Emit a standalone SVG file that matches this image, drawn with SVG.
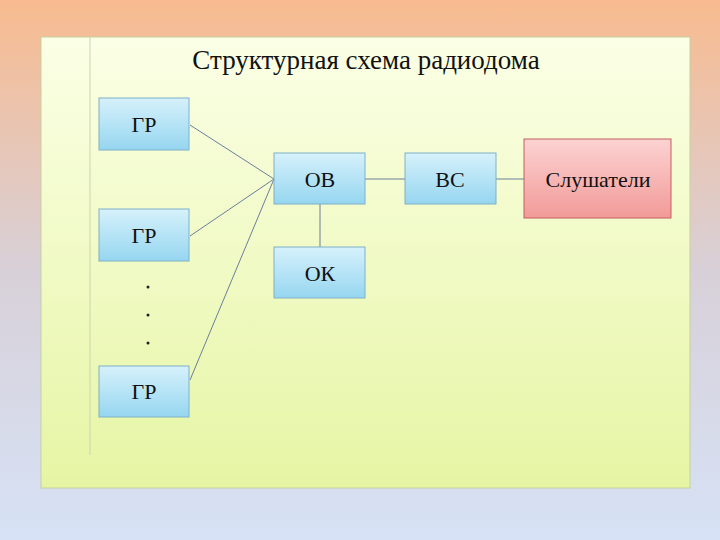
<svg xmlns="http://www.w3.org/2000/svg" width="720" height="540" viewBox="0 0 720 540">
<defs>
<linearGradient id="bg" x1="0" y1="0" x2="0" y2="1"><stop offset="0" stop-color="#f8bb8f"/><stop offset="0.5" stop-color="#d8d0d8"/><stop offset="1" stop-color="#d6e2f6"/></linearGradient>
<linearGradient id="panel" x1="0" y1="0" x2="0" y2="1"><stop offset="0" stop-color="#fbffe6"/><stop offset="1" stop-color="#e6f5a4"/></linearGradient>
<linearGradient id="blue" x1="0" y1="0" x2="0" y2="1"><stop offset="0" stop-color="#d6f1fb"/><stop offset="1" stop-color="#96d6f0"/></linearGradient>
<linearGradient id="red" x1="0" y1="0" x2="0" y2="1"><stop offset="0" stop-color="#fbd3d2"/><stop offset="1" stop-color="#f29a98"/></linearGradient>
<style>
.b{fill:url(#blue);stroke:#7fb0c8;stroke-width:1}
.r{fill:url(#red);stroke:#c06060;stroke-width:1}
.t{font-size:22px;fill:#111;text-anchor:middle}
.c{stroke:#6a7f99;stroke-width:1;fill:none}
</style>
</defs>
<rect width="720" height="540" fill="url(#bg)"/>
<rect x="41" y="37" width="649" height="451" fill="url(#panel)" stroke="#c8cfa0"/>
<line x1="90" y1="37" x2="90" y2="455" stroke="#cdd4b0"/>
<g font-family="Liberation Serif, DejaVu Serif, serif">
<text class="t" x="366" y="69" style="font-size:27px">Структурная схема радиодома</text>
<g id="connectors">
<line class="c" x1="190" y1="125" x2="274" y2="179"/>
<line class="c" x1="190" y1="236" x2="274" y2="179"/>
<line class="c" x1="190" y1="380" x2="274" y2="179"/>
<line class="c" x1="365" y1="179" x2="405" y2="179"/>
<line class="c" x1="496" y1="179" x2="524" y2="179"/>
<line class="c" x1="320" y1="204" x2="320" y2="247"/>
</g>
<g id="gr1"><rect class="b" x="99" y="98" width="90" height="52"/><text class="t" x="144" y="132">ГР</text></g>
<g id="gr2"><rect class="b" x="99" y="209" width="90" height="52"/><text class="t" x="144" y="243">ГР</text></g>
<g id="dots" fill="#222"><circle cx="148" cy="287" r="1.5"/><circle cx="148" cy="315" r="1.5"/><circle cx="148" cy="343" r="1.5"/></g>
<g id="gr3"><rect class="b" x="99" y="366" width="90" height="51"/><text class="t" x="144" y="399">ГР</text></g>
<g id="ov"><rect class="b" x="274" y="153" width="91" height="51"/><text class="t" x="320" y="187">ОВ</text></g>
<g id="ok"><rect class="b" x="274" y="247" width="91" height="51"/><text class="t" x="320" y="281">ОК</text></g>
<g id="vs"><rect class="b" x="405" y="153" width="91" height="51"/><text class="t" x="450" y="187">ВС</text></g>
<g id="listeners"><rect class="r" x="524" y="139" width="147" height="79"/><text class="t" x="598" y="187">Слушатели</text></g>
</g>
</svg>
